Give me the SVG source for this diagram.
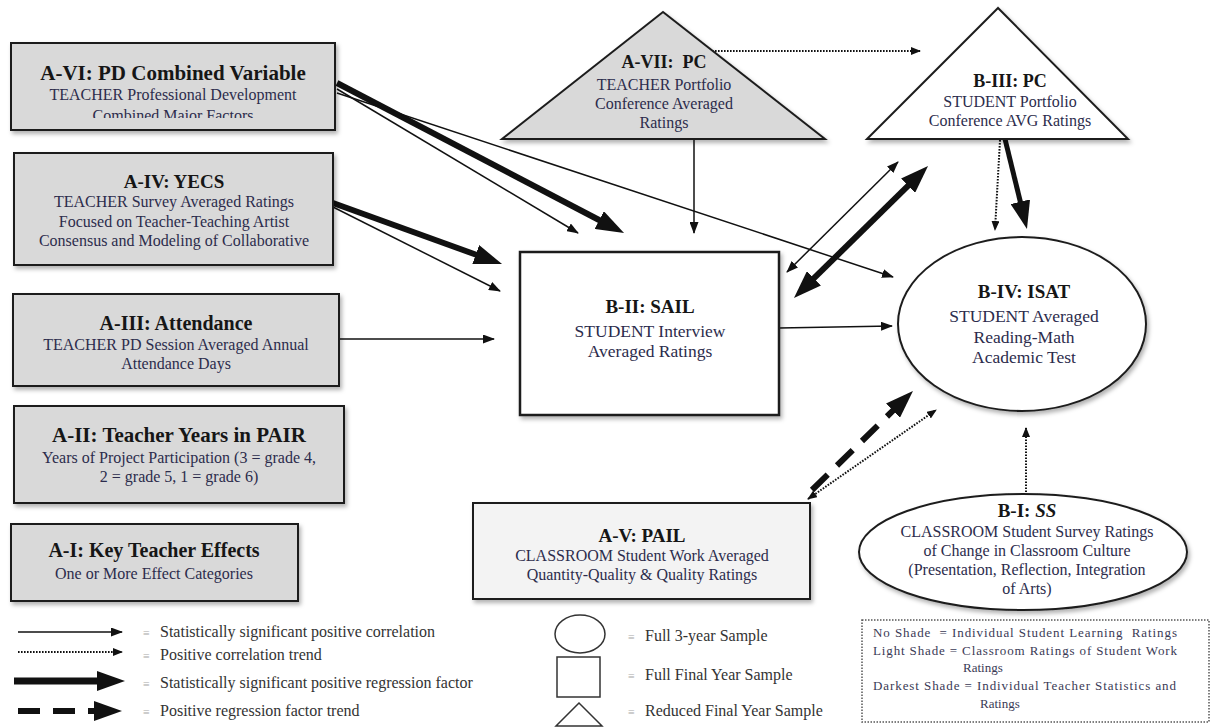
<svg xmlns="http://www.w3.org/2000/svg" width="1211" height="727" viewBox="0 0 1211 727">
<style>
.t{font-family:"Liberation Serif","Times New Roman",serif;font-weight:bold;fill:#161616;text-anchor:middle}
.s{font-family:"Liberation Serif","Times New Roman",serif;fill:#2c2c4c;text-anchor:middle;font-size:16px}
.dark{fill:#d9d9d9;stroke:#1e1e1e;stroke-width:2}
.light{fill:#f3f3f3;stroke:#1e1e1e;stroke-width:2}
.white{fill:#ffffff;stroke:#1e1e1e;stroke-width:2}
.ln{fill:none;stroke:#111;stroke-width:1.5}
.thk{fill:none;stroke:#111;stroke-width:6}
.dot{fill:none;stroke:#111;stroke-width:2;stroke-dasharray:1.6 1.4}
.dsh{fill:none;stroke:#111;stroke-width:6;stroke-dasharray:22 13}
.lg{font-family:"Liberation Serif","Times New Roman",serif;fill:#333;font-size:16px}
.bul{font-family:"Liberation Serif","Times New Roman",serif;fill:#aaa;font-size:12px}
.key{font-family:"Liberation Serif","Times New Roman",serif;fill:#3a3a55;font-size:13px}
</style>
<defs>
<filter id="sh" x="-5%" y="-5%" width="115%" height="125%"><feDropShadow dx="2" dy="3" stdDeviation="2" flood-color="#000" flood-opacity="0.3"/></filter>
<clipPath id="c6"><rect x="11" y="43" width="324" height="75"/></clipPath>
<marker id="a" markerUnits="userSpaceOnUse" markerWidth="12" markerHeight="9" refX="11" refY="4.5" orient="auto-start-reverse"><path d="M0,0 L12,4.5 L0,9 z" fill="#111"/></marker>
<marker id="d" markerUnits="userSpaceOnUse" markerWidth="10" markerHeight="8" refX="9" refY="4" orient="auto-start-reverse"><path d="M0,0 L10,4 L0,8 z" fill="#111"/></marker>
<marker id="A" markerUnits="userSpaceOnUse" markerWidth="28" markerHeight="20" refX="2" refY="10" orient="auto-start-reverse"><path d="M0,0 L28,10 L0,20 z" fill="#111"/></marker>
</defs>
<rect width="1211" height="727" fill="#ffffff"/>

<g id="connectors">
<line class="thk" x1="337" y1="83" x2="601" y2="221" marker-end="url(#A)"/>
<line class="ln" x1="337" y1="89" x2="578" y2="233" marker-end="url(#a)"/>
<line class="ln" x1="337" y1="93" x2="893" y2="277" marker-end="url(#a)"/>
<line class="thk" x1="333" y1="203" x2="477.6" y2="255.2" marker-end="url(#A)"/>
<line class="ln" x1="333" y1="207" x2="500" y2="291" marker-end="url(#a)"/>
<line class="ln" x1="339" y1="339" x2="494" y2="339" marker-end="url(#a)"/>
<line class="ln" x1="694" y1="139" x2="694" y2="233" marker-end="url(#a)"/>
<line class="dot" x1="712" y1="51" x2="920" y2="51" marker-end="url(#d)"/>
<line class="ln" x1="779" y1="328" x2="892" y2="326" marker-end="url(#a)"/>
<line class="ln" x1="787" y1="272" x2="898" y2="162" marker-start="url(#a)" marker-end="url(#a)"/>
<line class="thk" x1="812.5" y1="279.7" x2="909.5" y2="184.3" marker-start="url(#A)" marker-end="url(#A)"/>
<line class="thk" style="stroke-width:5" x1="1005" y1="139" x2="1020.8" y2="203.7" marker-end="url(#A)"/>
<line class="dot" x1="1000" y1="140" x2="995" y2="230" marker-end="url(#d)"/>
<line class="dsh" x1="812" y1="490" x2="894.4" y2="409.2" marker-end="url(#A)"/>
<line class="dot" x1="808" y1="499" x2="936" y2="410" marker-start="url(#d)" marker-end="url(#d)"/>
<line class="dot" x1="1026" y1="492" x2="1026" y2="428" marker-end="url(#d)"/>
</g>

<g id="A-VI">
<rect class="dark" x="11" y="43" width="324" height="87" filter="url(#sh)"/>
<text class="t" x="173" y="80" font-size="21">A-VI: PD Combined Variable</text>
<g clip-path="url(#c6)">
<text class="s" x="173" y="100">TEACHER Professional Development</text>
<text class="s" x="173" y="121">Combined Major Factors</text>
</g>
</g>

<g id="A-IV">
<rect class="dark" x="14" y="153" width="319" height="112" filter="url(#sh)"/>
<text class="t" x="174" y="188" font-size="19">A-IV: YECS</text>
<text class="s" x="174" y="207">TEACHER Survey Averaged Ratings</text>
<text class="s" x="174" y="227">Focused on Teacher-Teaching Artist</text>
<text class="s" x="174" y="246">Consensus and Modeling of Collaborative</text>
</g>

<g id="A-III">
<rect class="dark" x="13" y="294" width="326" height="92" filter="url(#sh)"/>
<text class="t" x="176" y="330" font-size="20">A-III: Attendance</text>
<text class="s" x="176" y="350">TEACHER PD Session Averaged Annual</text>
<text class="s" x="176" y="369">Attendance Days</text>
</g>

<g id="A-II">
<rect class="dark" x="14" y="406" width="330" height="97" filter="url(#sh)"/>
<text class="t" x="179" y="442" font-size="21">A-II: Teacher Years in PAIR</text>
<text class="s" x="179" y="463">Years of Project Participation (3 = grade 4,</text>
<text class="s" x="179" y="482">2 = grade 5, 1 = grade 6)</text>
</g>

<g id="A-I">
<rect class="dark" x="11" y="524" width="287" height="77" filter="url(#sh)"/>
<text class="t" x="154" y="557" font-size="20">A-I: Key Teacher Effects</text>
<text class="s" x="154" y="579">One or More Effect Categories</text>
</g>

<g id="A-VII">
<polygon class="dark" points="663,12 502,139 825,139" filter="url(#sh)"/>
<text class="t" x="664" y="68" font-size="18" xml:space="preserve">A-VII:  PC</text>
<text class="s" x="664" y="90">TEACHER Portfolio</text>
<text class="s" x="664" y="109">Conference Averaged</text>
<text class="s" x="664" y="128">Ratings</text>
</g>

<g id="B-III">
<polygon class="white" points="998,8 867,139 1128,139" filter="url(#sh)"/>
<text class="t" x="1010" y="87" font-size="18">B-III: PC</text>
<text class="s" x="1010" y="107">STUDENT Portfolio</text>
<text class="s" x="1010" y="126">Conference AVG Ratings</text>
</g>

<g id="B-II">
<rect class="white" x="520" y="252" width="259" height="163" style="stroke-width:2.5" filter="url(#sh)"/>
<text class="t" x="650" y="313" font-size="19">B-II: SAIL</text>
<text class="s" x="650" y="337" style="font-size:17.5px">STUDENT Interview</text>
<text class="s" x="650" y="357" style="font-size:17.5px">Averaged Ratings</text>
</g>

<g id="B-IV">
<ellipse class="white" cx="1022" cy="324" rx="124" ry="87" filter="url(#sh)"/>
<text class="t" x="1024" y="298" font-size="19">B-IV: ISAT</text>
<text class="s" x="1024" y="322" style="font-size:17.5px">STUDENT Averaged</text>
<text class="s" x="1024" y="343" style="font-size:17.5px">Reading-Math</text>
<text class="s" x="1024" y="363" style="font-size:17.5px">Academic Test</text>
</g>

<g id="A-V">
<rect class="light" x="473" y="503" width="337" height="96" filter="url(#sh)"/>
<text class="t" x="642" y="542" font-size="19">A-V: PAIL</text>
<text class="s" x="642" y="561">CLASSROOM Student Work Averaged</text>
<text class="s" x="642" y="580">Quantity-Quality &amp; Quality Ratings</text>
</g>

<g id="B-I">
<ellipse class="white" cx="1023" cy="552" rx="164" ry="58" filter="url(#sh)"/>
<text class="t" x="1027" y="517" font-size="19">B-I: <tspan font-style="italic">SS</tspan></text>
<text class="s" x="1027" y="537">CLASSROOM Student Survey Ratings</text>
<text class="s" x="1027" y="556">of Change in Classroom Culture</text>
<text class="s" x="1027" y="575">(Presentation, Reflection, Integration</text>
<text class="s" x="1027" y="594">of Arts)</text>
</g>

<g id="legend-lines">
<line class="ln" x1="18" y1="632" x2="122" y2="632" marker-end="url(#a)"/>
<line class="dot" x1="18" y1="652" x2="122" y2="652" marker-end="url(#d)"/>
<line class="thk" style="stroke-width:7" x1="14" y1="681" x2="99" y2="681" marker-end="url(#A)"/>
<line class="dsh" x1="18" y1="711" x2="96" y2="711" marker-end="url(#A)"/>
<text class="bul" x="143" y="637">≡</text>
<text class="lg" x="160" y="637">Statistically significant positive correlation</text>
<text class="bul" x="143" y="660">≡</text>
<text class="lg" x="160" y="660">Positive correlation trend</text>
<text class="bul" x="143" y="688">≡</text>
<text class="lg" x="160" y="688">Statistically significant positive regression factor</text>
<text class="bul" x="143" y="716">≡</text>
<text class="lg" x="160" y="716">Positive regression factor trend</text>
</g>

<g id="legend-shapes">
<ellipse cx="580" cy="634" rx="25" ry="19" fill="#fff" stroke="#333" stroke-width="1.5"/>
<rect x="557" y="657" width="43" height="40" fill="#fff" stroke="#333" stroke-width="1.5"/>
<polygon points="579,703 556,726 602,726" fill="#fff" stroke="#333" stroke-width="1.5"/>
<text class="bul" x="628" y="641">≡</text>
<text class="lg" x="645" y="641">Full 3-year Sample</text>
<text class="bul" x="628" y="680">≡</text>
<text class="lg" x="645" y="680">Full Final Year Sample</text>
<text class="bul" x="628" y="716">≡</text>
<text class="lg" x="645" y="716">Reduced Final Year Sample</text>
</g>

<g id="shade-key">
<rect x="862" y="620" width="347" height="102" fill="none" stroke="#555" stroke-width="1.5" stroke-dasharray="1.5 1.5"/>
<text class="key" x="873" y="637" textLength="304" lengthAdjust="spacing" xml:space="preserve">No Shade  = Individual Student Learning  Ratings</text>
<text class="key" x="873" y="655" textLength="304" lengthAdjust="spacing">Light Shade = Classroom Ratings of Student Work</text>
<text class="key" x="963" y="672">Ratings</text>
<text class="key" x="873" y="690" textLength="303" lengthAdjust="spacing">Darkest Shade = Individual Teacher Statistics and</text>
<text class="key" x="980" y="708">Ratings</text>
</g>
</svg>
